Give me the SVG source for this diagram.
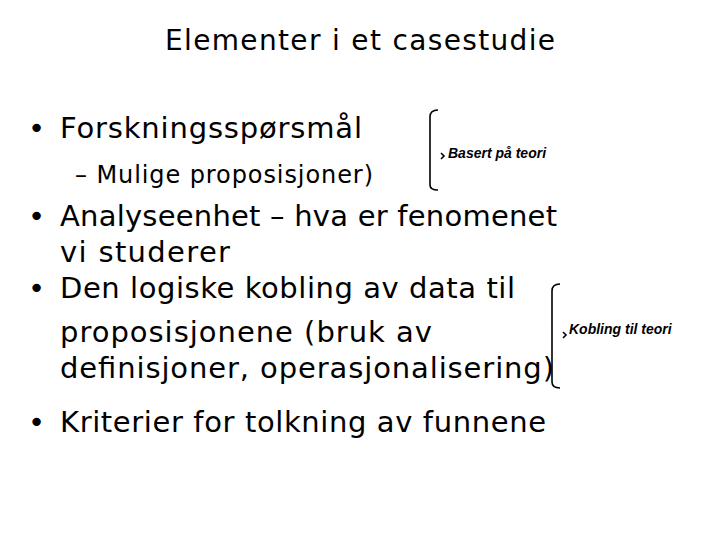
<svg xmlns="http://www.w3.org/2000/svg" width="720" height="540" viewBox="0 0 720 540">
<style>
.t{font-family:"DejaVu Sans",sans-serif;fill:#000}
.b{font-size:29px}
.s{font-size:24px}
.n{font-family:"Liberation Sans",Arial,sans-serif;font-weight:bold;font-style:italic;font-size:14px}
.br{fill:none;stroke:#000;stroke-width:1.6}
</style>
<rect width="720" height="540" fill="#fff"/>
<text class="t" x="360" y="50" font-size="28" text-anchor="middle" textLength="390">Elementer i et  casestudie</text>
<g id="bullets">
<text class="t b" x="28" y="138">•</text>
<text class="t b" x="60" y="138" textLength="302">Forskningsspørsmål</text>
<text class="t s" x="75" y="183" textLength="298">– Mulige proposisjoner)</text>
<text class="t b" x="28" y="226">•</text>
<text class="t b" x="60" y="226" textLength="497">Analyseenhet – hva er fenomenet</text>
<text class="t b" x="60" y="262" textLength="170">vi studerer</text>
<text class="t b" x="28" y="298">•</text>
<text class="t b" x="60" y="298" textLength="455">Den logiske kobling av data til</text>
<text class="t b" x="60" y="342" textLength="372">proposisjonene (bruk av</text>
<text class="t b" x="60" y="378" textLength="494">definisjoner, operasjonalisering)</text>
<text class="t b" x="28" y="432">•</text>
<text class="t b" x="60" y="432" textLength="486">Kriterier for tolkning av funnene</text>
</g>
<g id="brace1">
<path class="br" d="M438,110 Q430,110 430,117 L430,185 Q430,190 438,190 M441,153 L444,156 L441,159"/>
<text class="n" x="448" y="158">Basert på teori</text>
</g>
<g id="brace2">
<path class="br" d="M560,284 Q552,284 552,291 L552,382 Q552,388 560,388 M563,332 L566,335 L563,338"/>
<text class="n" x="569" y="334">Kobling til teori</text>
</g>
</svg>
